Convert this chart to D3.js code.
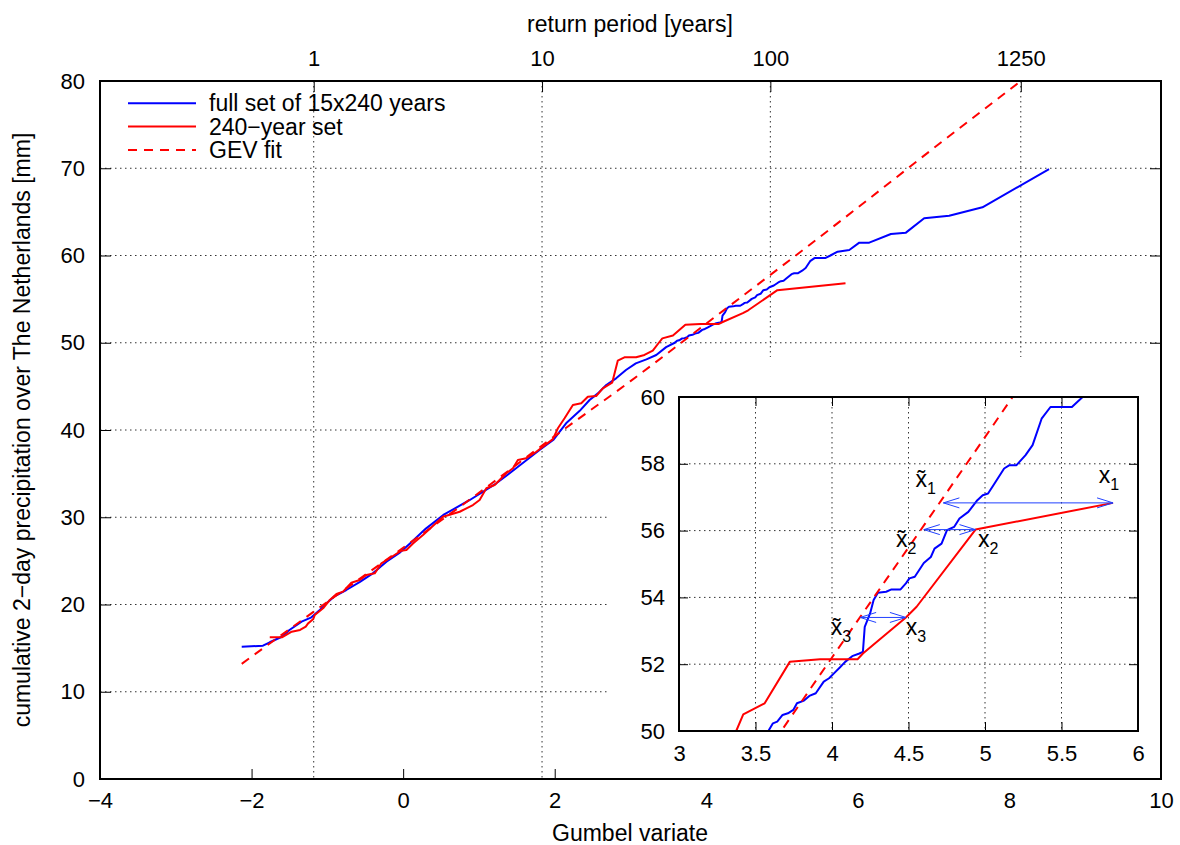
<!DOCTYPE html>
<html>
<head>
<meta charset="utf-8">
<script src="https://cdn.jsdelivr.net/npm/d3@7/dist/d3.min.js"></script>
<style>
  body { margin: 0; background: #fff; }
  svg text { font-family: "Liberation Sans", Arial, Helvetica, sans-serif; fill: #000; }
</style>
</head>
<body>
<div id="chart"></div>
<script>
/* Gumbel plot of 2-day precipitation with a zoomed inset of the tail. */

// full set of 15x240 years (Gumbel variate, mm)
var fullG = [-2.13, -1.85, -1.76, -1.6, -1.5, -1.34, -1.21, -1.1, -1.01, -0.9, -0.75, -0.57, -0.4, -0.22, -0.05, 0.09, 0.3, 0.53, 0.88, 1.23, 1.49, 1.8, 1.98, 2.15, 2.33, 2.46, 2.57, 2.68, 2.81, 2.94, 3.07, 3.21, 3.34, 3.47, 3.584, 3.614, 3.642, 3.677, 3.712, 3.747, 3.771, 3.817, 3.852, 3.894, 3.946, 3.981, 4.016, 4.051, 4.086, 4.132, 4.179, 4.202, 4.214, 4.249, 4.272, 4.3, 4.354, 4.389, 4.448, 4.483, 4.506, 4.541, 4.6, 4.646, 4.67, 4.716, 4.751, 4.798, 4.833, 4.891, 4.95, 4.985, 5.02, 5.055, 5.125, 5.16, 5.206, 5.265, 5.311, 5.37, 5.428, 5.568, 5.638, 5.733, 5.887, 6.019, 6.15, 6.436, 6.634, 6.875, 7.205, 7.644, 8.523];
var fullV = [15.15, 15.28, 15.67, 16.3, 17.08, 18.03, 18.53, 19.37, 20.13, 20.97, 21.66, 22.6, 23.57, 24.9, 25.9, 27.0, 28.7, 30.26, 31.98, 33.89, 35.61, 37.7, 38.85, 40.77, 42.2, 43.44, 44.2, 45.16, 45.92, 46.88, 47.64, 48.1, 48.6, 49.5, 50.0, 50.23, 50.28, 50.48, 50.53, 50.63, 50.83, 50.91, 51.05, 51.13, 51.48, 51.58, 51.74, 51.9, 52.07, 52.24, 52.32, 52.37, 53.12, 53.52, 53.92, 54.14, 54.17, 54.24, 54.24, 54.42, 54.57, 54.62, 55.03, 55.21, 55.46, 55.61, 56.01, 56.11, 56.36, 56.56, 56.91, 57.06, 57.11, 57.36, 57.86, 57.96, 57.96, 58.26, 58.56, 59.35, 59.7, 59.7, 60.0, 60.44, 60.63, 61.47, 61.47, 62.46, 62.62, 64.26, 64.56, 65.52, 69.91];

// 240-year set
var setG = [-1.76, -1.6, -1.47, -1.36, -1.285, -1.254, -1.188, -1.166, -1.056, -0.968, -0.88, -0.793, -0.683, -0.573, -0.485, -0.375, -0.287, -0.134, -0.023, 0.043, 0.13, 0.262, 0.525, 0.746, 0.921, 1.009, 1.098, 1.207, 1.361, 1.449, 1.514, 1.625, 1.757, 1.976, 2.042, 2.13, 2.24, 2.35, 2.437, 2.547, 2.635, 2.758, 2.832, 2.92, 3.074, 3.184, 3.294, 3.374, 3.42, 3.56, 3.724, 3.922, 4.167, 4.202, 4.483, 4.553, 4.938, 5.837];
var setV = [16.24, 16.24, 16.88, 17.08, 17.46, 17.84, 18.3, 18.8, 19.56, 20.52, 21.2, 21.47, 22.5, 22.8, 23.38, 23.57, 24.72, 25.56, 26.17, 26.25, 27.0, 27.97, 30.06, 30.63, 31.4, 31.98, 33.32, 33.7, 35.04, 35.61, 36.56, 36.76, 37.51, 38.95, 40.2, 41.34, 42.87, 43.06, 43.82, 43.9, 44.78, 45.42, 47.95, 48.33, 48.33, 48.6, 49.1, 50.0, 50.5, 50.83, 52.07, 52.15, 52.15, 52.32, 53.4, 53.72, 56.03, 56.83];

// GEV fit
var gevG = [-2.13, -1, 0, 1, 2, 3, 4, 5, 6, 7, 8.15];
var gevV = [13.2, 20.3, 26.5, 32.8, 39.3, 45.6, 52.2, 58.8, 65.5, 72.3, 80.0];

var seriesNames = ["full set of 15x240 years", "240\u2212year set", "GEV fit"];

// axes
var xTicks = [-4, -2, 0, 2, 4, 6, 8, 10];
var yTicks = [0, 10, 20, 30, 40, 50, 60, 70, 80];
var yGrid = [10, 20, 30, 40, 50, 60, 70];
var returnPeriods = [1, 10, 100, 1250];
var returnPeriodGumbel = [-1.18, 1.83, 4.84, 8.15];

// inset
var insetXTicks = [3, 3.5, 4, 4.5, 5, 5.5, 6];
var insetYTicks = [50, 52, 54, 56, 58, 60];
var insetXGrid = [3.5, 4, 4.5, 5, 5.5];
var insetYGrid = [52, 54, 56, 58];

// arrows between sample and fit (Gumbel from, Gumbel to, level)
var arrowFrom = [4.728, 4.6, 4.184];
var arrowTo = [5.837, 4.938, 4.483];
var arrowAt = [56.83, 56.03, 53.4];

// annotation labels
var labelG = [4.546, 5.743, 4.418, 4.954, 3.992, 4.482];
var labelV = [57.31, 57.43, 55.52, 55.52, 52.87, 52.87];
var labelSub = ["1", "1", "2", "2", "3", "3"];
var labelTilde = [true, false, true, false, true, false];

var W = 1180, H = 845;
var FS = 22, TS = 23;
var svg = d3.select("#chart").append("svg").attr("width", W).attr("height", H);

var x = d3.scaleLinear().domain([-4, 10]).range([100, 1161]);
var y = d3.scaleLinear().domain([0, 80]).range([779, 81]);
var xTop = d3.scaleLog().domain([returnPeriods[0], returnPeriods[3]])
  .range([x(returnPeriodGumbel[0]), x(returnPeriodGumbel[3])]);

function zip(a, b) { return a.map(function (d, i) { return [d, b[i]]; }); }
function styleAxis(g, showText) {
  g.select(".domain").remove();
  g.selectAll(".tick line").attr("stroke", "#000").attr("stroke-width", 1);
  g.selectAll("text").attr("font-size", FS).attr("font-family", "Liberation Sans, Arial, sans-serif").attr("fill", "#000");
  if (!showText) g.selectAll("text").remove();
}
var plain = function (d) { return d3.format("~g")(d); };

/* grid (behind everything) */
var grid = svg.append("g").attr("stroke", "#333").attr("stroke-width", 1).attr("stroke-dasharray", "1.5,3.5");
grid.selectAll("line.h").data(yGrid).join("line").attr("class", "h")
  .attr("x1", x(-4)).attr("x2", x(10)).attr("y1", function (d) { return y(d); }).attr("y2", function (d) { return y(d); });
grid.selectAll("line.v").data(returnPeriods).join("line").attr("class", "v")
  .attr("x1", function (d) { return xTop(d); }).attr("x2", function (d) { return xTop(d); })
  .attr("y1", y(80)).attr("y2", y(0));

/* axes */
svg.append("g").attr("transform", "translate(0," + y(0) + ")")
  .call(d3.axisBottom(x).tickValues(xTicks).tickSize(-10).tickPadding(13))
  .call(styleAxis, true);
svg.append("g").attr("transform", "translate(" + x(-4) + ",0)")
  .call(d3.axisLeft(y).tickValues(yTicks).tickSize(-11).tickPadding(15))
  .call(styleAxis, true);
svg.append("g").attr("transform", "translate(" + x(10) + ",0)")
  .call(d3.axisRight(y).tickValues(yTicks).tickSize(-11))
  .call(styleAxis, false);
svg.append("g").attr("transform", "translate(0," + y(80) + ")")
  .call(d3.axisTop(xTop).tickValues(returnPeriods).tickFormat(d3.format("d")).tickSize(-11).tickPadding(15))
  .call(styleAxis, true);

/* white backdrop of the inset (hides grid and ticks, not the curves) */
svg.append("rect").attr("x", 608).attr("y", 357).attr("width", x(10) - 608).attr("height", y(0) - 357).attr("fill", "#fff");

/* curves */
function drawCurves(g, sx, sy) {
  var line = d3.line().x(function (d) { return sx(d[0]); }).y(function (d) { return sy(d[1]); });
  g.append("path").datum(zip(fullG, fullV)).attr("d", line)
    .attr("fill", "none").attr("stroke", "#0000ff").attr("stroke-width", 2).attr("stroke-linejoin", "round");
  g.append("path").datum(zip(setG, setV)).attr("d", line)
    .attr("fill", "none").attr("stroke", "#ff0000").attr("stroke-width", 2).attr("stroke-linejoin", "round");
  g.append("path").datum(zip(gevG, gevV)).attr("d", line.curve(d3.curveMonotoneX))
    .attr("fill", "none").attr("stroke", "#ff0000").attr("stroke-width", 2).attr("stroke-dasharray", "9,7");
}
drawCurves(svg.append("g"), x, y);

/* main frame */
svg.append("rect").attr("x", x(-4)).attr("y", y(80)).attr("width", x(10) - x(-4)).attr("height", y(0) - y(80))
  .attr("fill", "none").attr("stroke", "#000").attr("stroke-width", 2);

/* legend */
var leg = svg.append("g");
var legDash = [null, null, "9,7"];
var legColor = ["#0000ff", "#ff0000", "#ff0000"];
seriesNames.forEach(function (name, i) {
  var ly = 103.3 + i * 23.3;
  leg.append("line").attr("x1", 128).attr("x2", 196).attr("y1", ly).attr("y2", ly)
    .attr("stroke", legColor[i]).attr("stroke-width", 2).attr("stroke-dasharray", legDash[i]);
  leg.append("text").attr("x", 209).attr("y", ly + 8).attr("font-size", TS).text(name);
});

/* axis titles */
svg.append("text").attr("x", 630).attr("y", 32).attr("text-anchor", "middle").attr("font-size", TS).text("return period [years]");
svg.append("text").attr("x", 630).attr("y", 841).attr("text-anchor", "middle").attr("font-size", TS).text("Gumbel variate");
svg.append("text").attr("transform", "translate(30,430) rotate(-90)").attr("text-anchor", "middle").attr("font-size", TS)
  .text("cumulative 2\u2212day precipitation over The Netherlands [mm]");

/* inset */
var ix = d3.scaleLinear().domain([3, 6]).range([679, 1138]);
var iy = d3.scaleLinear().domain([50, 60]).range([731, 397]);

var ig = svg.append("g");
ig.append("clipPath").attr("id", "insetClip").append("rect")
  .attr("x", ix(3)).attr("y", iy(60)).attr("width", ix(6) - ix(3)).attr("height", iy(50) - iy(60));

var igrid = ig.append("g").attr("stroke", "#333").attr("stroke-width", 1).attr("stroke-dasharray", "1.5,3.5");
igrid.selectAll("line.h").data(insetYGrid).join("line").attr("class", "h")
  .attr("x1", ix(3)).attr("x2", ix(6)).attr("y1", function (d) { return iy(d); }).attr("y2", function (d) { return iy(d); });
igrid.selectAll("line.v").data(insetXGrid).join("line").attr("class", "v")
  .attr("x1", function (d) { return ix(d); }).attr("x2", function (d) { return ix(d); }).attr("y1", iy(60)).attr("y2", iy(50));

ig.append("g").attr("transform", "translate(0," + iy(50) + ")")
  .call(d3.axisBottom(ix).tickValues(insetXTicks).tickFormat(plain).tickSize(-9).tickPadding(14)).call(styleAxis, true);
ig.append("g").attr("transform", "translate(0," + iy(60) + ")")
  .call(d3.axisTop(ix).tickValues(insetXTicks).tickSize(-9)).call(styleAxis, false);
ig.append("g").attr("transform", "translate(" + ix(3) + ",0)")
  .call(d3.axisLeft(iy).tickValues(insetYTicks).tickFormat(plain).tickSize(-9).tickPadding(14)).call(styleAxis, true);
ig.append("g").attr("transform", "translate(" + ix(6) + ",0)")
  .call(d3.axisRight(iy).tickValues(insetYTicks).tickSize(-9)).call(styleAxis, false);

drawCurves(ig.append("g").attr("clip-path", "url(#insetClip)"), ix, iy);

/* arrows with open heads at both ends */
var hl = 16, hw = 5;
var arr = ig.append("g").attr("stroke", "#2040ff").attr("stroke-width", 1).attr("fill", "none");
arrowFrom.forEach(function (g0, i) {
  var a = ix(g0), b = ix(arrowTo[i]), yy = iy(arrowAt[i]);
  arr.append("line").attr("x1", a).attr("x2", b).attr("y1", yy).attr("y2", yy);
  arr.append("path").attr("d", "M" + (a + hl) + "," + (yy - hw) + "L" + a + "," + yy + "L" + (a + hl) + "," + (yy + hw));
  arr.append("path").attr("d", "M" + (b - hl) + "," + (yy - hw) + "L" + b + "," + yy + "L" + (b - hl) + "," + (yy + hw));
});

/* x / x-tilde labels */
var lab = ig.append("g");
labelG.forEach(function (g0, i) {
  var px = ix(g0), py = iy(labelV[i]);
  var t = lab.append("text").attr("x", px).attr("y", py).attr("font-size", TS)
    .text(labelTilde[i] ? "x\u0303" : "x");
  t.append("tspan").attr("dy", 7).attr("font-size", 16).text(labelSub[i]);
});

ig.append("rect").attr("x", ix(3)).attr("y", iy(60)).attr("width", ix(6) - ix(3)).attr("height", iy(50) - iy(60))
  .attr("fill", "none").attr("stroke", "#000").attr("stroke-width", 2);
</script>
</body>
</html>
